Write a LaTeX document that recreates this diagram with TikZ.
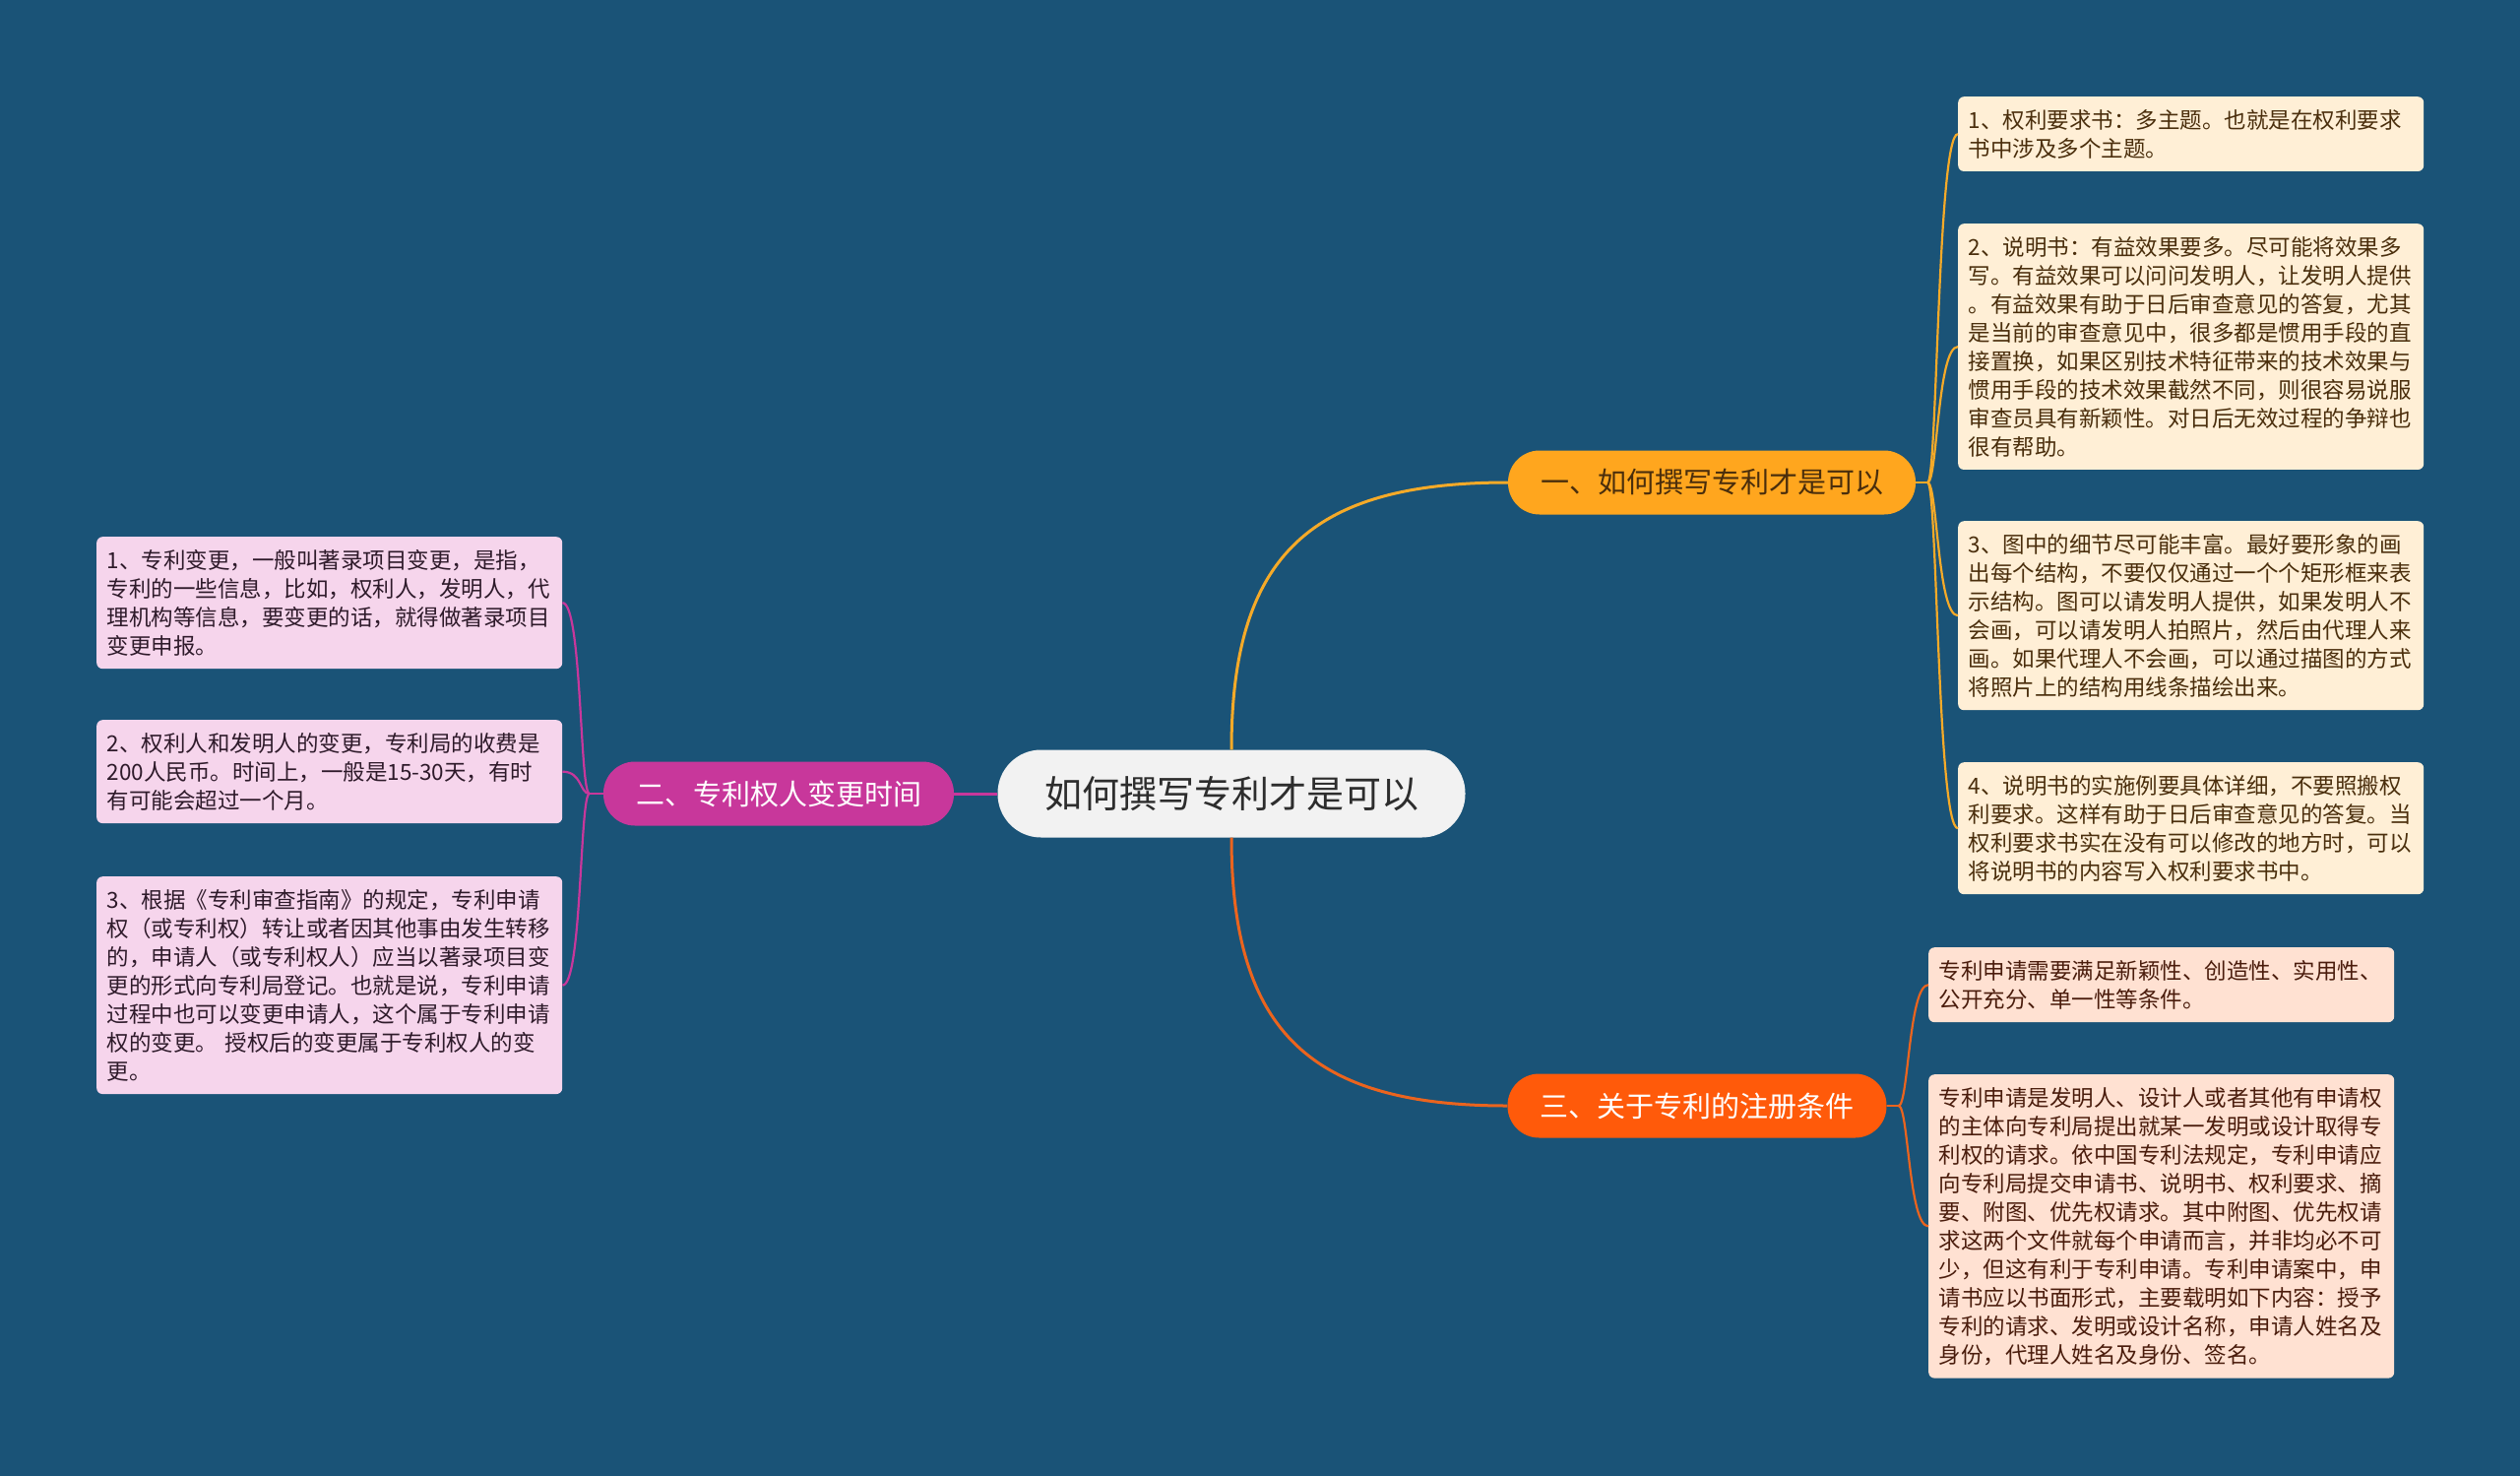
\documentclass[tikz,border=0pt]{standalone}
\usepackage{fontspec}
\setmainfont{Noto Sans CJK SC}
\usetikzlibrary{positioning}
\definecolor{bgcolor}{RGB}{26,83,119}
\definecolor{rootfill}{RGB}{242,242,242}
\definecolor{roottext}{RGB}{45,45,45}
\definecolor{onecolor}{RGB}{255,166,30}
\definecolor{twocolor}{RGB}{200,55,155}
\definecolor{threecolor}{RGB}{255,90,10}
\definecolor{oneline}{RGB}{245,170,40}
\definecolor{threeline}{RGB}{235,100,30}
\definecolor{onefill}{RGB}{255,239,214}
\definecolor{twofill}{RGB}{246,213,236}
\definecolor{threefill}{RGB}{255,225,210}
\definecolor{onetext}{RGB}{74,46,12}
\definecolor{twotext}{RGB}{46,26,42}
\definecolor{threetext}{RGB}{74,28,12}

\begin{document}
\begin{tikzpicture}[
    x=1pt, y=-1pt,
    root/.style={rectangle, fill=rootfill, text=roottext, rounded corners=44pt, minimum width=475pt, minimum height=89pt, font=\fontsize{38}{44}\selectfont},
    topic/.style={rectangle, rounded corners=32pt, minimum height=65pt, inner xsep=33pt, font=\fontsize{29}{34}\selectfont},
    leaf/.style={rectangle, rounded corners=6pt, text width=452pt, inner xsep=10.5pt, inner ysep=13pt, align=left, anchor=north west, font=\fontsize{22.5}{29}\selectfont},
    link/.style={line width=3pt},
    twig/.style={line width=2.2pt}
]
\useasboundingbox (0,0) rectangle (2560,1499);
\fill[bgcolor] (0,0) rectangle (2560,1499);

\node[root] (root) at (1251,806) {如何撰写专利才是可以};
\node[topic, fill=onecolor, text=onetext] (b1) at (1739,490) {一、如何撰写专利才是可以};
\node[topic, fill=twocolor, text=white] (b2) at (791,806) {二、专利权人变更时间};
\node[topic, fill=threecolor, text=white] (b3) at (1724,1123) {三、关于专利的注册条件};

\node[leaf, fill=onefill, text=onetext] (l1) at (1989,98) {1、权利要求书：多主题。也就是在权利要求\\书中涉及多个主题。};
\node[leaf, fill=onefill, text=onetext] (l2) at (1989,227) {2、说明书：有益效果要多。尽可能将效果多\\写。有益效果可以问问发明人，让发明人提供\\。有益效果有助于日后审查意见的答复，尤其\\是当前的审查意见中，很多都是惯用手段的直\\接置换，如果区别技术特征带来的技术效果与\\惯用手段的技术效果截然不同，则很容易说服\\审查员具有新颖性。对日后无效过程的争辩也\\很有帮助。};
\node[leaf, fill=onefill, text=onetext] (l3) at (1989,529) {3、图中的细节尽可能丰富。最好要形象的画\\出每个结构，不要仅仅通过一个个矩形框来表\\示结构。图可以请发明人提供，如果发明人不\\会画，可以请发明人拍照片，然后由代理人来\\画。如果代理人不会画，可以通过描图的方式\\将照片上的结构用线条描绘出来。};
\node[leaf, fill=onefill, text=onetext] (l4) at (1989,774) {4、说明书的实施例要具体详细，不要照搬权\\利要求。这样有助于日后审查意见的答复。当\\权利要求书实在没有可以修改的地方时，可以\\将说明书的内容写入权利要求书中。};

\node[leaf, fill=twofill, text=twotext] (k1) at (98,545) {1、专利变更，一般叫著录项目变更，是指，\\专利的一些信息，比如，权利人，发明人，代\\理机构等信息，要变更的话，就得做著录项目\\变更申报。};
\node[leaf, fill=twofill, text=twotext] (k2) at (98,731) {2、权利人和发明人的变更，专利局的收费是\\200人民币。时间上，一般是15-30天，有时\\有可能会超过一个月。};
\node[leaf, fill=twofill, text=twotext] (k3) at (98,890) {3、根据《专利审查指南》的规定，专利申请\\权（或专利权）转让或者因其他事由发生转移\\的，申请人（或专利权人）应当以著录项目变\\更的形式向专利局登记。也就是说，专利申请\\过程中也可以变更申请人，这个属于专利申请\\权的变更。 授权后的变更属于专利权人的变\\更。};

\node[leaf, fill=threefill, text=threetext] (m1) at (1959,962) {专利申请需要满足新颖性、创造性、实用性、\\公开充分、单一性等条件。};
\node[leaf, fill=threefill, text=threetext] (m2) at (1959,1091) {专利申请是发明人、设计人或者其他有申请权\\的主体向专利局提出就某一发明或设计取得专\\利权的请求。依中国专利法规定，专利申请应\\向专利局提交申请书、说明书、权利要求、摘\\要、附图、优先权请求。其中附图、优先权请\\求这两个文件就每个申请而言，并非均必不可\\少，但这有利于专利申请。专利申请案中，申\\请书应以书面形式，主要载明如下内容：授予\\专利的请求、发明或设计名称，申请人姓名及\\身份，代理人姓名及身份、签名。};

\draw[link, oneline] (root.north) to[out=90, in=180, looseness=1.3] (b1.west);
\draw[link, twocolor] (root.west) -- (b2.east);
\draw[link, threeline] (root.south) to[out=-90, in=180, looseness=1.3] (b3.west);

\coordinate (j1) at ([xshift=12pt]b1.east);
\coordinate (j2) at ([xshift=-14pt]b2.west);
\coordinate (j3) at ([xshift=12pt]b3.east);
\draw[twig, oneline] (b1.east) -- (j1);
\draw[twig, twocolor] (b2.west) -- (j2);
\draw[twig, threeline] (b3.east) -- (j3);
\foreach \l in {l1,l2,l3,l4}
  \draw[twig, oneline] (j1) .. controls ([xshift=10pt]j1) and ([xshift=-21pt]\l.west) .. (\l.west);
\foreach \k in {k1,k2,k3}
  \draw[twig, twocolor] (j2) .. controls ([xshift=-10pt]j2) and ([xshift=20pt]\k.east) .. (\k.east);
\foreach \m in {m1,m2}
  \draw[twig, threeline] (j3) .. controls ([xshift=10pt]j3) and ([xshift=-20pt]\m.west) .. (\m.west);
\end{tikzpicture}
\end{document}
